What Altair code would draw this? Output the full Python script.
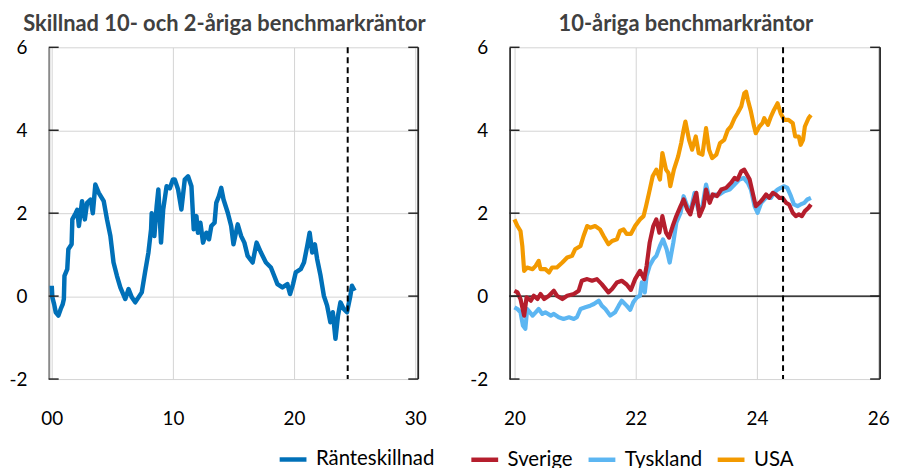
import altair as alt
import pandas as pd

FONT = "Lato"

# ---- Left panel: spread 10y - 2y (years since 2000) ----
spread_years = [0.0, 0.05, 0.2, 0.33, 0.55, 0.74, 0.9, 1.0, 1.05, 1.28, 1.37, 1.64, 1.7, 1.97, 2.1, 2.24,
                2.5, 2.73, 2.92, 3.2, 3.39, 3.6, 3.88, 4.29, 4.56, 4.84, 5.1, 5.38, 5.66, 6.07, 6.34,
                6.61, 6.89, 7.16, 7.43, 7.7, 7.98, 8.2, 8.25, 8.47, 8.66, 8.8, 9.02, 9.2, 9.48, 9.75,
                10.0, 10.16, 10.43, 10.7, 10.98, 11.25, 11.53, 11.72, 11.94, 12.07, 12.27, 12.49, 12.76,
                12.98, 13.17, 13.44, 13.58, 13.8, 13.99, 14.18, 14.53, 14.81, 15.0, 15.35, 15.63, 15.9,
                16.17, 16.58, 16.91, 17.27, 17.68, 18.09, 18.36, 18.63, 19.04, 19.45, 19.67, 19.92,
                20.14, 20.55, 20.82, 21.09, 21.29, 21.5, 21.72, 21.91, 22.19, 22.46, 22.73, 23.0, 23.2,
                23.42, 23.63, 23.83, 24.1, 24.37, 24.65, 24.78, 25.0]
spread_vals = [0.25, -0.03, -0.2, -0.39, -0.47, -0.31, -0.2, -0.07, 0.49, 0.65, 1.13, 1.25, 1.85, 2.0, 2.08, 1.69,
               2.29, 1.85, 2.25, 2.33, 2.0, 2.69, 2.49, 2.29, 1.85, 1.45, 0.81, 0.49, 0.21, -0.07, 0.17,
               -0.03, -0.15, -0.03, 0.09, 0.57, 1.05, 1.61, 2.0, 1.45, 2.17, 2.57, 1.29, 2.09, 2.65, 2.6,
               2.81, 2.81, 2.57, 2.09, 2.81, 2.89, 2.65, 1.61, 1.93, 1.53, 1.77, 1.29, 1.53,
               1.37, 1.69, 1.77, 2.25, 2.41, 2.61, 2.33, 2.01, 1.69, 1.25, 1.73, 1.45, 1.29,
               0.97, 0.81, 1.29, 1.05, 0.81, 0.69, 0.49, 0.29, 0.21, 0.29, 0.05, 0.29,
               0.57, 0.65, 0.81, 1.21, 1.53, 1.05, 1.25, 0.89, 0.49, 0.01, -0.23, -0.63, -0.39,
               -1.03, -0.47, -0.15, -0.31, -0.39, 0.01, 0.25, 0.13]

# ---- Right panel: 10y benchmark yields ----
usa_years = [20.0, 20.05, 20.1, 20.13, 20.16, 20.21, 20.3, 20.35, 20.4, 20.43, 20.51, 20.57, 20.62, 20.7,
             20.79, 20.87, 20.95, 21.0, 21.09, 21.14, 21.2, 21.25, 21.33, 21.41, 21.47, 21.55, 21.61,
             21.69, 21.74, 21.8, 21.85, 21.92, 21.99, 22.07, 22.13, 22.17, 22.22, 22.28, 22.34, 22.4,
             22.44, 22.5, 22.54, 22.57, 22.63, 22.7, 22.75, 22.79, 22.82, 22.88, 22.93, 22.99, 23.04,
             23.1, 23.16, 23.21, 23.26, 23.33, 23.39, 23.46, 23.52, 23.57, 23.63, 23.68, 23.74, 23.79,
             23.82, 23.85, 23.9, 23.95, 23.98, 24.04, 24.09, 24.12, 24.18, 24.23, 24.28, 24.34, 24.39,
             24.45, 24.52, 24.59, 24.63, 24.69, 24.72, 24.76, 24.79, 24.85, 24.89]
usa_vals = [1.85, 1.69, 1.57, 1.21, 0.61, 0.69, 0.65, 0.73, 0.85, 0.65, 0.65, 0.57, 0.69, 0.69,
            0.81, 0.93, 0.97, 1.13, 1.21, 1.45, 1.69, 1.65, 1.69, 1.61, 1.45, 1.25, 1.33,
            1.37, 1.57, 1.61, 1.5, 1.5, 1.69, 1.85, 1.93, 2.17, 2.49, 2.89, 3.05, 2.81,
            3.45, 3.05, 2.97, 2.65, 3.05, 3.37, 3.69, 4.01, 4.21, 3.77, 3.53, 3.85, 3.45,
            3.41, 4.05, 3.53, 3.33, 3.41, 3.69, 3.77, 4.01, 4.09, 4.29, 4.41, 4.57, 4.89,
            4.93, 4.73, 4.45, 4.1, 3.93, 4.09, 4.17, 4.29, 4.13, 4.33, 4.49, 4.65, 4.41,
            4.25, 4.25, 4.17, 3.85, 3.85, 3.65, 3.77, 4.09, 4.29, 4.37]

swe_years = [20.0, 20.05, 20.1, 20.16, 20.2, 20.27, 20.32, 20.38, 20.43, 20.49, 20.57, 20.65, 20.7, 20.79,
             20.87, 20.98, 21.06, 21.11, 21.2, 21.28, 21.36, 21.44, 21.55, 21.61, 21.69, 21.77, 21.85,
             21.92, 21.99, 22.07, 22.14, 22.18, 22.23, 22.29, 22.34, 22.39, 22.44, 22.5, 22.55, 22.61,
             22.67, 22.74, 22.79, 22.85, 22.9, 22.95, 23.0, 23.05, 23.12, 23.16, 23.22, 23.27, 23.34,
             23.41, 23.49, 23.57, 23.63, 23.68, 23.74, 23.79, 23.85, 23.88, 23.93, 23.98, 24.04, 24.09,
             24.15, 24.2, 24.26, 24.31, 24.37, 24.42, 24.48, 24.53, 24.59, 24.64, 24.69, 24.74, 24.79,
             24.85, 24.89]
swe_vals = [0.13, 0.09, -0.07, -0.47, -0.03, -0.11, 0.01, -0.07, 0.05, -0.07, 0.01, 0.13, 0.01, -0.07,
            0.01, 0.05, 0.13, 0.37, 0.41, 0.37, 0.41, 0.29, 0.09, 0.17, 0.33, 0.37, 0.28,
            0.15, 0.41, 0.61, 0.41, 0.73, 1.29, 1.69, 1.85, 1.53, 1.93, 1.53, 1.41, 1.69,
            1.93, 2.17, 2.33, 2.09, 1.97, 2.25, 2.49, 1.93, 2.17, 2.57, 2.25, 2.45, 2.41,
            2.57, 2.61, 2.73, 2.85, 2.81, 3.01, 3.05, 2.89, 2.81, 2.49, 2.17, 2.25, 2.33,
            2.45, 2.37, 2.49, 2.45, 2.37, 2.37, 2.25, 2.21, 2.01, 1.93, 1.97, 1.93, 2.05,
            2.13, 2.21]

ger_years = [20.0, 20.05, 20.1, 20.14, 20.18, 20.21, 20.3, 20.35, 20.4, 20.46, 20.51, 20.6, 20.65, 20.73,
             20.81, 20.9, 20.98, 21.03, 21.09, 21.17, 21.25, 21.31, 21.39, 21.44, 21.5, 21.58, 21.66,
             21.72, 21.77, 21.85, 21.91, 21.96, 22.02, 22.07, 22.1, 22.15, 22.18, 22.23, 22.29, 22.34,
             22.4, 22.45, 22.51, 22.56, 22.62, 22.67, 22.74, 22.79, 22.85, 22.9, 22.97, 23.03, 23.1,
             23.16, 23.22, 23.3, 23.38, 23.46, 23.55, 23.63, 23.71, 23.78, 23.85, 23.9, 23.96, 24.01,
             24.07, 24.12, 24.18, 24.23, 24.28, 24.34, 24.39, 24.45, 24.5, 24.56, 24.61, 24.67, 24.72,
             24.78, 24.83, 24.89]
ger_vals = [-0.27, -0.31, -0.39, -0.71, -0.79, -0.31, -0.47, -0.39, -0.31, -0.43, -0.39, -0.47, -0.43, -0.51,
            -0.55, -0.51, -0.55, -0.51, -0.31, -0.27, -0.23, -0.19, -0.11, -0.23, -0.31, -0.47, -0.39,
            -0.23, -0.11, -0.23, -0.33, -0.15, -0.03, 0.01, 0.33, 0.09, 0.49, 0.73, 0.89, 0.97,
            1.21, 1.37, 1.13, 0.81, 1.29, 1.77, 2.01, 2.41, 2.17, 2.01, 2.49, 2.09, 2.17,
            2.69, 2.33, 2.45, 2.45, 2.53, 2.57, 2.69, 2.81, 2.85, 2.73, 2.57, 2.17, 2.01,
            2.25, 2.33, 2.41, 2.37, 2.49, 2.57, 2.61, 2.65, 2.61, 2.41, 2.21, 2.17, 2.21,
            2.25, 2.33, 2.37]

marker_year = 24.43
y_ticks = [-2, 0, 2, 4, 6]
left_x_ticks = [0, 10, 20, 30]
right_x_ticks = [20, 22, 24, 26]

left_series = ["Ränteskillnad"]
left_colors = ["#0070B8"]
right_series = ["Sverige", "Tyskland", "USA"]
right_colors = ["#B51E2D", "#5CB6F2", "#F39A00"]

WL, WR, H = 372, 373, 334
GRID = "#d4d4d4"

df_left = pd.DataFrame({"year": spread_years, "value": spread_vals, "series": "Ränteskillnad"})
df_swe = pd.DataFrame({"year": swe_years, "value": swe_vals, "series": "Sverige"})
df_ger = pd.DataFrame({"year": ger_years, "value": ger_vals, "series": "Tyskland"})
df_usa = pd.DataFrame({"year": usa_years, "value": usa_vals, "series": "USA"})
df_ticks = pd.DataFrame({"v": y_ticks})
df_one = pd.DataFrame({"a": [0]})
df_mark = pd.DataFrame({"year": [marker_year]})

ysc = alt.Scale(domain=[-2, 6], nice=False, zero=False)


def yaxis(domain_color, domain_width):
    return alt.Axis(values=y_ticks, labelExpr="'' + datum.value", grid=True, gridColor=GRID,
                    gridWidth=1, domain=True, domainColor=domain_color, domainWidth=domain_width,
                    ticks=False, labelPadding=22, labelFont=FONT, labelFontSize=19,
                    labelColor="#000000", minExtent=40, maxExtent=40, title=None)


def xaxis(vals, fmt):
    return alt.Axis(values=vals, format=fmt, grid=True, gridColor=GRID, gridWidth=1, domain=False,
                    ticks=False, labelPadding=31, labelFont=FONT, labelFontSize=19,
                    labelColor="#000000", title=None, labelFlush=False)


def legend(x, y):
    return alt.Legend(orient="none", legendX=x, legendY=y, direction="horizontal", title=None,
                      symbolType="stroke", symbolStrokeWidth=4.5, symbolSize=729,
                      labelFont=FONT, labelFontSize=20.5, labelColor="#000000", labelOffset=7,
                      columnPadding=6, padding=0)


def frame(width, xsc):
    ticks_l = alt.Chart(df_ticks).mark_rule(color="#262626", strokeWidth=1.5).encode(
        y=alt.Y("v:Q", scale=ysc), x=alt.value(0), x2=alt.value(10))
    ticks_r = alt.Chart(df_ticks).mark_rule(color="#262626", strokeWidth=1.5).encode(
        y=alt.Y("v:Q", scale=ysc), x=alt.value(width - 10), x2=alt.value(width))
    right_line = alt.Chart(df_one).mark_rule(color="#262626", strokeWidth=1.8).encode(
        x=alt.value(width), y=alt.value(0), y2=alt.value(H))
    dash = alt.Chart(df_mark).mark_rule(color="#000000", strokeWidth=2, strokeDash=[6, 4]).encode(
        x=alt.X("year:Q", scale=xsc))
    return [ticks_l, ticks_r, right_line, dash]


title_style = dict(font=FONT, fontSize=22, fontWeight="bold", color="#404040", offset=2, dx=-9,
                   anchor="middle")

# Left chart
xsc_l = alt.Scale(domain=[-0.25, 30.25], nice=False, zero=False)
line_left = alt.Chart(df_left).mark_line(strokeWidth=4.5, strokeJoin="round").encode(
    x=alt.X("year:Q", scale=xsc_l, axis=xaxis(left_x_ticks, "02d")),
    y=alt.Y("value:Q", scale=ysc, axis=yaxis("#8a8a8a", 2)),
    color=alt.Color("series:N", scale=alt.Scale(domain=left_series, range=left_colors),
                    legend=legend(230, 399)),
)
left = alt.layer(line_left, *frame(WL, xsc_l)).properties(
    width=WL, height=H,
    title=alt.TitleParams("Skillnad 10- och 2-åriga benchmarkräntor", **title_style))

# Right chart
xsc_r = alt.Scale(domain=[19.92, 26.03], nice=False, zero=False)
col_r = alt.Scale(domain=right_series, range=right_colors)


def rline(df):
    return alt.Chart(df).mark_line(strokeWidth=4.2, strokeJoin="round").encode(
        x=alt.X("year:Q", scale=xsc_r, axis=xaxis(right_x_ticks, "d")),
        y=alt.Y("value:Q", scale=ysc, axis=yaxis("#1a1a1a", 1.6)),
        color=alt.Color("series:N", scale=col_r, legend=legend(-41, 399)),
    )


zero_line = alt.Chart(df_one).mark_rule(color="#000000", strokeWidth=1.3).encode(
    y=alt.Y("a:Q", scale=ysc))
right = alt.layer(zero_line, rline(df_ger), rline(df_swe), rline(df_usa),
                  *frame(WR, xsc_r)).properties(
    width=WR, height=H,
    title=alt.TitleParams("10-åriga benchmarkräntor", **title_style))

chart = alt.hconcat(left, right, spacing=92, bounds="flush").resolve_scale(
    color="independent").properties(
    padding={"left": 0, "top": 4, "right": 0, "bottom": 0}
).configure_view(stroke=None)

chart.save("out.html", embed_options={"renderer": "svg", "actions": False})
